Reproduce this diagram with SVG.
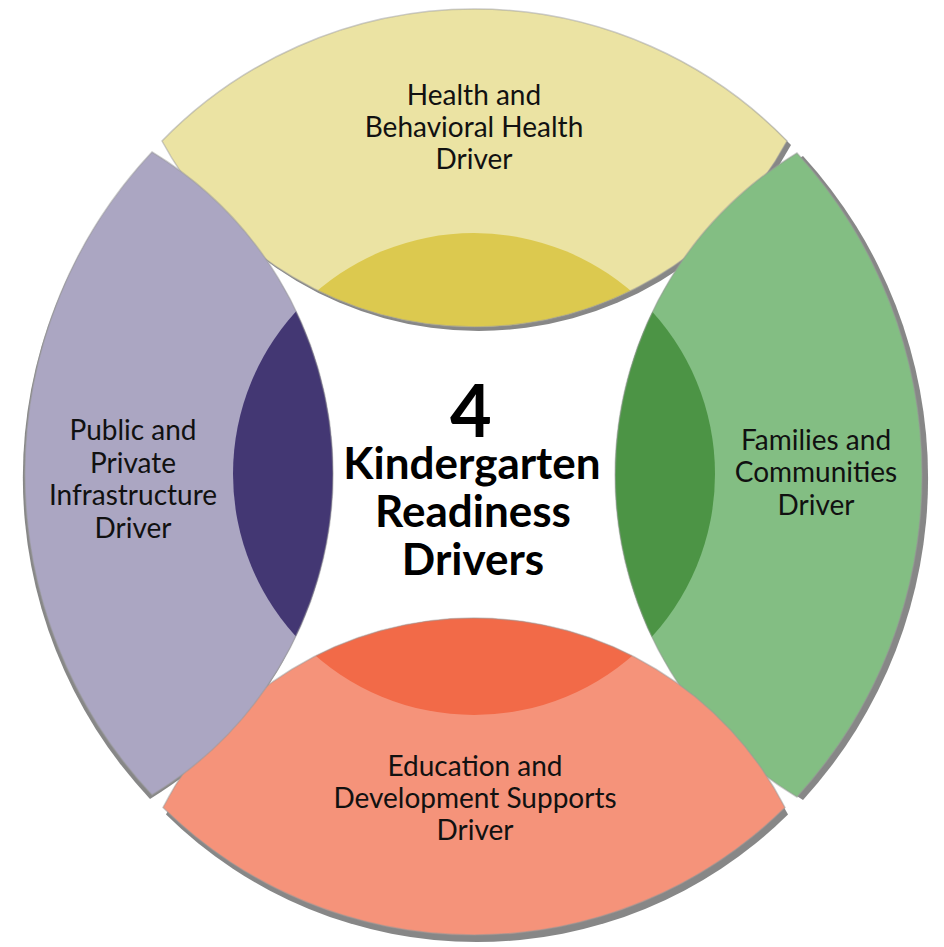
<svg xmlns="http://www.w3.org/2000/svg" width="944" height="947" viewBox="0 0 944 947">
<style>
.lbl{font-family:"Lato","Liberation Sans",sans-serif;font-size:28px;fill:#111;text-anchor:middle}
.ttl{font-family:"Lato","Liberation Sans",sans-serif;font-weight:700;fill:#000;text-anchor:middle}
.shadow{fill:#878787}
.edge{fill:none;stroke:#9a9a9a;stroke-width:1.5}
</style>
<defs>
<path id="pTop" d="M162,141 A436,436 0 0 1 787,141 A355.5,355.5 0 0 1 162,141 Z"/>
<path id="pRight" d="M797,153 A477,477 0 0 1 797,797 A376,376 0 0 1 797,153 Z"/>
<path id="pBottom" d="M785,807.5 A443,443 0 0 1 163,807.5 A350,350 0 0 1 785,807.5 Z"/>
<path id="pLeft" d="M152,795 A470,470 0 0 1 152,152 A376,376 0 0 1 152,795 Z"/>
<clipPath id="cTop"><use href="#pTop"/></clipPath>
<clipPath id="cRight"><use href="#pRight"/></clipPath>
<clipPath id="cBottom"><use href="#pBottom"/></clipPath>
<clipPath id="cLeft"><use href="#pLeft"/></clipPath>
</defs>
<rect width="944" height="947" fill="#fff"/>
<g id="shadows">
<use href="#pTop" class="shadow" transform="translate(4,4)"/>
<use href="#pRight" class="shadow" transform="translate(6,3)"/>
<use href="#pBottom" class="shadow" transform="translate(3,7)"/>
<use href="#pLeft" class="shadow" transform="translate(-2,4)"/>
</g>
<g id="node-top">
<use href="#pTop" fill="#EBE3A3"/>
<circle cx="474" cy="474" r="241" fill="#DCC94F" clip-path="url(#cTop)"/>
<use href="#pTop" class="edge" stroke-opacity="0.5"/>
<text class="lbl" x="474" y="105">Health and</text>
<text class="lbl" x="474" y="137">Behavioral Health</text>
<text class="lbl" x="474" y="169">Driver</text>
</g>
<g id="node-right">
<use href="#pRight" fill="#83BE83"/>
<circle cx="474" cy="474" r="241" fill="#4C9445" clip-path="url(#cRight)"/>
<use href="#pRight" class="edge" stroke-opacity="0.5"/>
<text class="lbl" x="816" y="450">Families and</text>
<text class="lbl" x="816" y="482">Communities</text>
<text class="lbl" x="816" y="515">Driver</text>
</g>
<g id="node-bottom">
<use href="#pBottom" fill="#F5937A"/>
<circle cx="474" cy="474" r="241" fill="#F26A48" clip-path="url(#cBottom)"/>
<use href="#pBottom" class="edge" stroke-opacity="0.5"/>
<text class="lbl" x="475" y="776">Education and</text>
<text class="lbl" x="475" y="808">Development Supports</text>
<text class="lbl" x="475" y="840">Driver</text>
</g>
<g id="node-left">
<use href="#pLeft" fill="#ABA6C2"/>
<circle cx="474" cy="474" r="241" fill="#433773" clip-path="url(#cLeft)"/>
<use href="#pLeft" class="edge" stroke-opacity="0.5"/>
<text class="lbl" x="133" y="440">Public and</text>
<text class="lbl" x="133" y="473">Private</text>
<text class="lbl" x="133" y="505">Infrastructure</text>
<text class="lbl" x="133" y="538">Driver</text>
</g>
<g id="node-center">
<text class="ttl" x="471" y="437" font-size="72">4</text>
<text class="ttl" x="472" y="479" font-size="44">Kindergarten</text>
<text class="ttl" x="473" y="527" font-size="44">Readiness</text>
<text class="ttl" x="473" y="575" font-size="44">Drivers</text>
</g>
</svg>
